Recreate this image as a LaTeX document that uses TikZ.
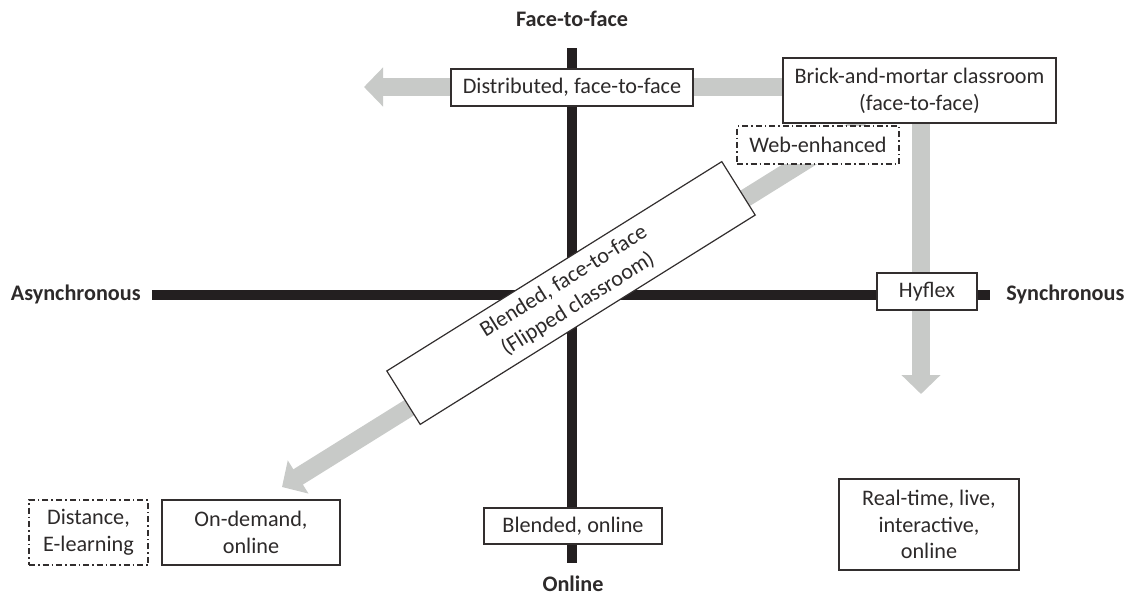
\documentclass[tikz,border=0pt]{standalone}
\usepackage{fontspec}
\setmainfont{Carlito}
\usetikzlibrary{arrows.meta}
\definecolor{axiscol}{RGB}{35,31,32}
\definecolor{arrowgray}{RGB}{200,202,200}
\definecolor{txtcol}{RGB}{45,42,42}
\definecolor{boxcol}{RGB}{50,46,46}
\tikzset{
  axisbar/.style={line width=4.6pt, axiscol, line cap=butt},
  garrow/.style={line width=9pt, arrowgray, line cap=butt, -{Triangle[length=9.5pt,width=19pt]}},
  box/.style={draw=boxcol, line width=0.6pt, fill=white, inner sep=0pt, align=center, text=txtcol},
  dbox/.style={box, dash pattern=on 3pt off 1.5pt on 0.75pt off 1.5pt},
  axlabel/.style={font=\fontsize{11.1}{13.4}\selectfont\bfseries, text=txtcol, inner sep=0pt}
}
\begin{document}
\begin{tikzpicture}[x=0.5pt,y=-0.5pt,font=\fontsize{11.1}{13.4}\selectfont]
\useasboundingbox (0,0) rectangle (1126,595);

% axis labels
\node[axlabel, anchor=base] (ftf) at (572,26) {Face-to-face};
\node[axlabel, anchor=base] (onl) at (573,591) {Online};
\node[axlabel, anchor=base east] (asy) at (141,300) {Asynchronous};
\node[axlabel, anchor=base west] (syn) at (1006,300) {Synchronous};

% axes
\coordinate (vtop) at (572,48);
\coordinate (vbot) at (572,563);
\coordinate (hleft) at (152,295);
\coordinate (hright) at (990,295);
\draw[axisbar] (hleft) -- (hright);
\draw[axisbar] (vtop) -- (vbot);

% main box (source of arrows)
\node[box, minimum width=136.5pt, minimum height=32.5pt] (brick) at (919.5,90.5)
  {Brick-and-mortar classroom\\(face-to-face)};

% arrow end points
\coordinate (lefttip) at (364,87);
\coordinate (downtip) at (921,394);
\coordinate (diagstart) at (865,123);
\coordinate (diagtip) at (282,487);

% gray arrows
\draw[garrow] (brick.west |- lefttip) -- (lefttip);
\draw[garrow] (brick.south -| downtip) -- (downtip);
\draw[garrow] (brick.south -| diagstart) -- (diagtip);

% redraw brick on top
\node[box, minimum width=136.5pt, minimum height=32.5pt] at (brick) {Brick-and-mortar classroom\\(face-to-face)};

% boxes
\node[box, minimum width=121pt, minimum height=18.5pt] (dist) at (572,87.5) {Distributed, face-to-face};
\node[dbox, minimum width=81pt, minimum height=19pt] (web) at (818,145) {Web-enhanced};
\node[box, minimum width=50pt, minimum height=18.5pt] (hyf) at (927,291.5) {Hyflex};
\node[box, minimum width=197.5pt, minimum height=31.5pt, rotate=32] (blf) at (571,293)
  {Blended, face-to-face\\(Flipped classroom)};
\node[dbox, minimum width=59.5pt, minimum height=32.5pt] (dis) at (88.5,532.5) {Distance,\\E-learning};
\node[box, minimum width=89pt, minimum height=32.5pt] (ond) at (251,532.5) {On-demand,\\online};
\node[box, minimum width=89pt, minimum height=18pt] (blo) at (573,526) {Blended, online};
\node[box, minimum width=90pt, minimum height=45.5pt] (rt) at (929,524.5) {Real-time, live,\\interactive,\\online};
\end{tikzpicture}
\end{document}
